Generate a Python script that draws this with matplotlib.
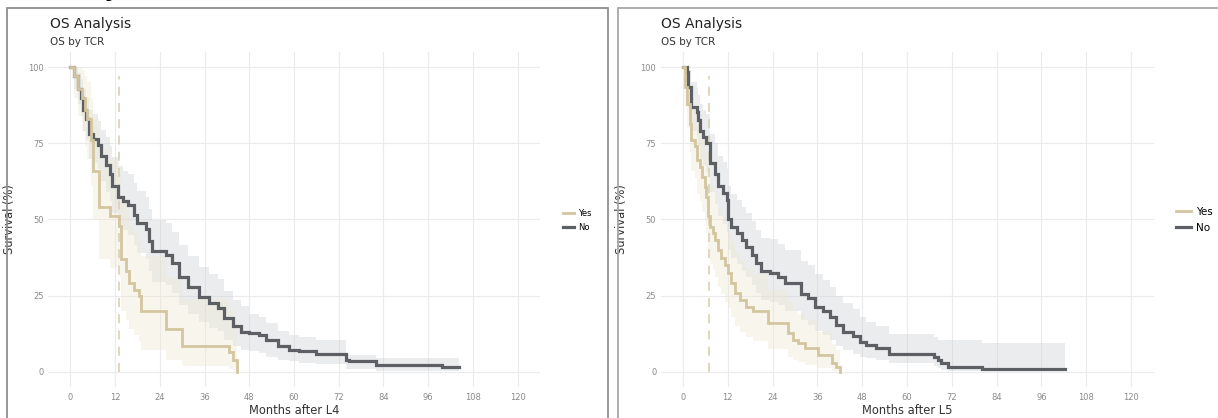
import matplotlib.pyplot as plt
from matplotlib.lines import Line2D
from matplotlib.patches import Rectangle

# ---- data (months, survival %) ----
# left panel: L4
l4_yes_t = [0, 1, 2, 3, 4, 4.5, 5.5, 6.2, 7.8, 10.5, 13, 13.6, 15, 15.8, 17, 18.5, 19, 25.6, 30, 42.6, 43.5, 44.8]
l4_yes_s = [100, 97, 93, 90, 86, 83, 76, 66, 54, 51, 48, 37, 33, 29, 27, 25, 20, 14, 8.5, 6.5, 4, 0]
l4_yes_hi = [100, 100, 100, 99, 97, 95, 90, 83, 73, 70, 67, 57, 53, 48, 46, 43, 38, 31, 24, 20, 16, 0]
l4_yes_lo = [100, 90, 84, 79, 74, 70, 61, 50, 37, 34, 31, 20, 17, 14, 12, 10, 7, 4, 2, 1, 0.5, 0]

l4_no_t = [0, 1.1, 2, 2.9, 3.3, 4.2, 5.1, 6, 7.3, 8.2, 9.6, 10.5, 11.3, 12.7, 14, 15.4, 17.2, 18, 20.3,
           21.2, 22, 25.6, 27.4, 29.2, 31.5, 34.6, 37.3, 39.5, 41.3, 43.5, 45.8, 48, 50.7, 52.5, 55.6,
           58.7, 61.4, 65.9, 73.9, 74.8, 82, 99.8, 104.3]
l4_no_s = [100, 97, 93, 90, 86, 83, 78, 76.5, 74.5, 71, 68, 65, 61, 57.5, 56, 54.8, 51.5, 49, 47,
           43, 39.5, 38.4, 35.6, 31.2, 28, 24.7, 22.5, 21, 17.6, 15, 13.2, 12.7, 12, 10.5, 8.3,
           7.2, 6.7, 5.9, 3.9, 3.4, 2.3, 1.5, 1.5]
l4_no_hi = [100, 100, 98, 96, 93, 90, 86, 84.5, 82.5, 79.5, 77, 74, 70.5, 67.5, 66, 65, 62, 59.5, 57.5,
            53.5, 50, 49, 46, 41.5, 38, 34.5, 32, 30.5, 26.5, 23.5, 21.5, 19, 18, 16, 13.5,
            12, 11.5, 10.5, 6, 5.5, 4.6, 4.5, 4.5]
l4_no_lo = [100, 93, 88, 84, 79, 76, 70, 68.5, 66.5, 62.5, 59, 56, 52, 48, 46.5, 45, 41.5, 39, 37,
            33, 29.5, 28.5, 26, 22, 19, 16.5, 14.5, 13.5, 10.5, 8.5, 7, 6.8, 6.2, 5, 3.8,
            3.5, 3, 2.5, 1, 0.8, 0.4, 0.2, 0.2]

# right panel: L5
l5_yes_t = [0, 0.5, 1.2, 1.9, 2.3, 3.2, 3.7, 4.5, 5, 5.9, 6.3, 6.8, 7.2, 8.1, 8.6, 9.4, 10.3, 11.2, 12.1,
            13, 13.9, 15.2, 17, 18.8, 22.8, 28.1, 29.5, 30.8, 32.6, 36.2, 39.8, 41.1, 42]
l5_yes_s = [100, 93.5, 88, 81.5, 76, 74, 69.5, 67.3, 64, 60.8, 57.5, 51, 47.6, 45.5, 43.3, 40, 37.3, 35, 32.4,
            29, 25.8, 23.6, 21.4, 19.8, 16, 12.7, 10.5, 9.4, 7.8, 5.6, 2.8, 1.7, 0]
l5_yes_hi = [100, 100, 96, 91, 87, 85, 81, 79, 76, 73, 70, 64, 61, 59, 57, 53.5, 51, 48.5, 46,
             42.5, 39, 36.5, 34, 32, 27, 23, 20, 19, 17, 13, 9, 7, 0]
l5_yes_lo = [100, 87, 80, 72, 66, 63.5, 58.5, 56, 52.5, 49, 45.5, 39, 35.5, 33.5, 31, 28, 25.5, 23, 21,
             18, 15, 13, 11.5, 10, 7.5, 5, 3.8, 3.2, 2.3, 1.3, 0.3, 0.1, 0]

l5_no_t = [0, 1, 1.4, 2.3, 3.7, 4.1, 4.5, 5.4, 6.3, 7.2, 8.6, 9.4, 10.8, 11.7, 12.1, 13, 14.4, 15.7, 17,
           18.4, 19.7, 21, 23.3, 25.5, 27.3, 31.7, 33.5, 35.3, 37.5, 39.3, 41.1, 42.9, 45.5, 47.3, 49.1,
           51.8, 55.3, 67.2, 68.3, 69.2, 71, 80, 102.3]
l5_no_s = [100, 98.5, 93.5, 87, 85.3, 82.6, 79, 77, 75, 68.5, 65, 61, 58.6, 56.4, 50, 47.6, 45.5, 43.3, 41,
           38.4, 35.6, 33, 32.4, 31.2, 29, 25.7, 24.2, 21.4, 19.8, 18.1, 15.4, 13.2, 11.6, 9.9, 8.9,
           7.8, 6, 5, 3.9, 2.8, 1.7, 1, 1]
l5_no_hi = [100, 100, 99, 95, 93.5, 91, 88, 86, 84.5, 78, 75, 71, 69, 67, 61, 58.5, 56.5, 54, 52,
            49.5, 46.5, 44, 43.5, 42, 40, 36.5, 35, 32, 30, 28, 25, 22.5, 20.5, 18, 16.5,
            15, 12.5, 11.5, 10.5, 10.5, 10.5, 9.6, 9.6]
l5_no_lo = [100, 95, 87, 79, 77, 74, 70, 68, 65.5, 59, 55, 51, 48.5, 46, 40, 37.5, 35.5, 33, 31,
            28.5, 26, 23.5, 23, 22, 20, 17, 15.5, 13.5, 12, 10.5, 8.5, 7, 6, 5, 4.5,
            4, 3, 2, 1.2, 0.7, 0.3, 0.1, 0.1]

median_l4 = 13
median_l5 = 7
x_ticks = [0, 12, 24, 36, 48, 60, 72, 84, 96, 108, 120]
y_ticks = [0, 25, 50, 75, 100]

YES_COL = '#d3c59f'
NO_COL = '#5c6064'


def km(ax, t, s, lo, hi, color, band, band_alpha, lw):
    ax.fill_between(t, lo, hi, step='post', color=band, alpha=band_alpha, lw=0, zorder=1)
    ax.step(t, s, where='post', color=color, lw=lw, zorder=3, solid_joinstyle='miter')


def panel(ax, yes, no, median, xlabel):
    km(ax, *no, NO_COL, '#c9ced3', 0.38, 2.3)
    km(ax, *yes, YES_COL, '#efe8d3', 0.4, 2.0)
    ax.plot([median, median], [0, 97], color='#ddd3b8', lw=1.3, ls=(0, (5, 4)), zorder=2)
    ax.set_xlim(-6, 126)
    ax.set_ylim(-5, 105)
    ax.set_xticks(x_ticks)
    ax.set_yticks(y_ticks)
    ax.grid(True, color='#ebebeb', lw=0.8)
    ax.set_axisbelow(True)
    for sp in ax.spines.values():
        sp.set_visible(False)
    ax.tick_params(axis='x', length=0, labelsize=6, labelcolor='#8a8a8a', pad=4)
    ax.tick_params(axis='y', length=0, labelsize=6, labelcolor='#8a8a8a', pad=3)
    ax.set_xlabel(xlabel, fontsize=8.3, color='#333333')
    ax.set_ylabel('Survival (%)', fontsize=8.3, color='#333333')
    ax.xaxis.set_label_coords(0.5, -0.05)
    ax.yaxis.set_label_coords(-0.065, 0.5)


fig = plt.figure(figsize=(12.18, 4.18), dpi=100)
W, H = 1218, 418

ax1 = fig.add_axes([48 / W, 1 - 387 / H, 492 / W, 335 / H])
ax2 = fig.add_axes([660.5 / W, 1 - 387 / H, 493 / W, 335 / H])

panel(ax1, (l4_yes_t, l4_yes_s, l4_yes_lo, l4_yes_hi), (l4_no_t, l4_no_s, l4_no_lo, l4_no_hi),
      median_l4, 'Months after L4')
panel(ax2, (l5_yes_t, l5_yes_s, l5_yes_lo, l5_yes_hi), (l5_no_t, l5_no_s, l5_no_lo, l5_no_hi),
      median_l5, 'Months after L5')

# panel frames
fig.add_artist(Rectangle((7 / W, -0.05), 601 / W, 1.05 - 8 / H, transform=fig.transFigure,
                         fill=False, ec='#8f8f8f', lw=1.3))
fig.add_artist(Rectangle((618 / W, -0.05), 620 / W, 1.05 - 8 / H, transform=fig.transFigure,
                         fill=False, ec='#a8a8a8', lw=1.3))

# heading cut off by the top edge, as in the screenshot
fig.text(0 / W, 1 + 3 / H, 'Summary', fontsize=16, fontweight='bold', color='black', va='baseline')

for x0 in (50, 661):
    fig.text(x0 / W, 1 - 24 / H, 'OS Analysis', fontsize=10, color='#222222', va='center')
    fig.text(x0 / W, 1 - 42 / H, 'OS by TCR', fontsize=7.5, color='#333333', va='center')

handles = [Line2D([], [], color=YES_COL, lw=2), Line2D([], [], color=NO_COL, lw=2.3)]
for x0, fs in ((555, 6), (1167, 7.5)):
    fig.legend(handles, ['Yes', 'No'], loc='center left', bbox_to_anchor=(x0 / W, 1 - 220 / H),
               frameon=False, fontsize=fs, handlelength=1.4, handletextpad=0.5, labelspacing=0.6)

fig.savefig('out.png', dpi=100)
